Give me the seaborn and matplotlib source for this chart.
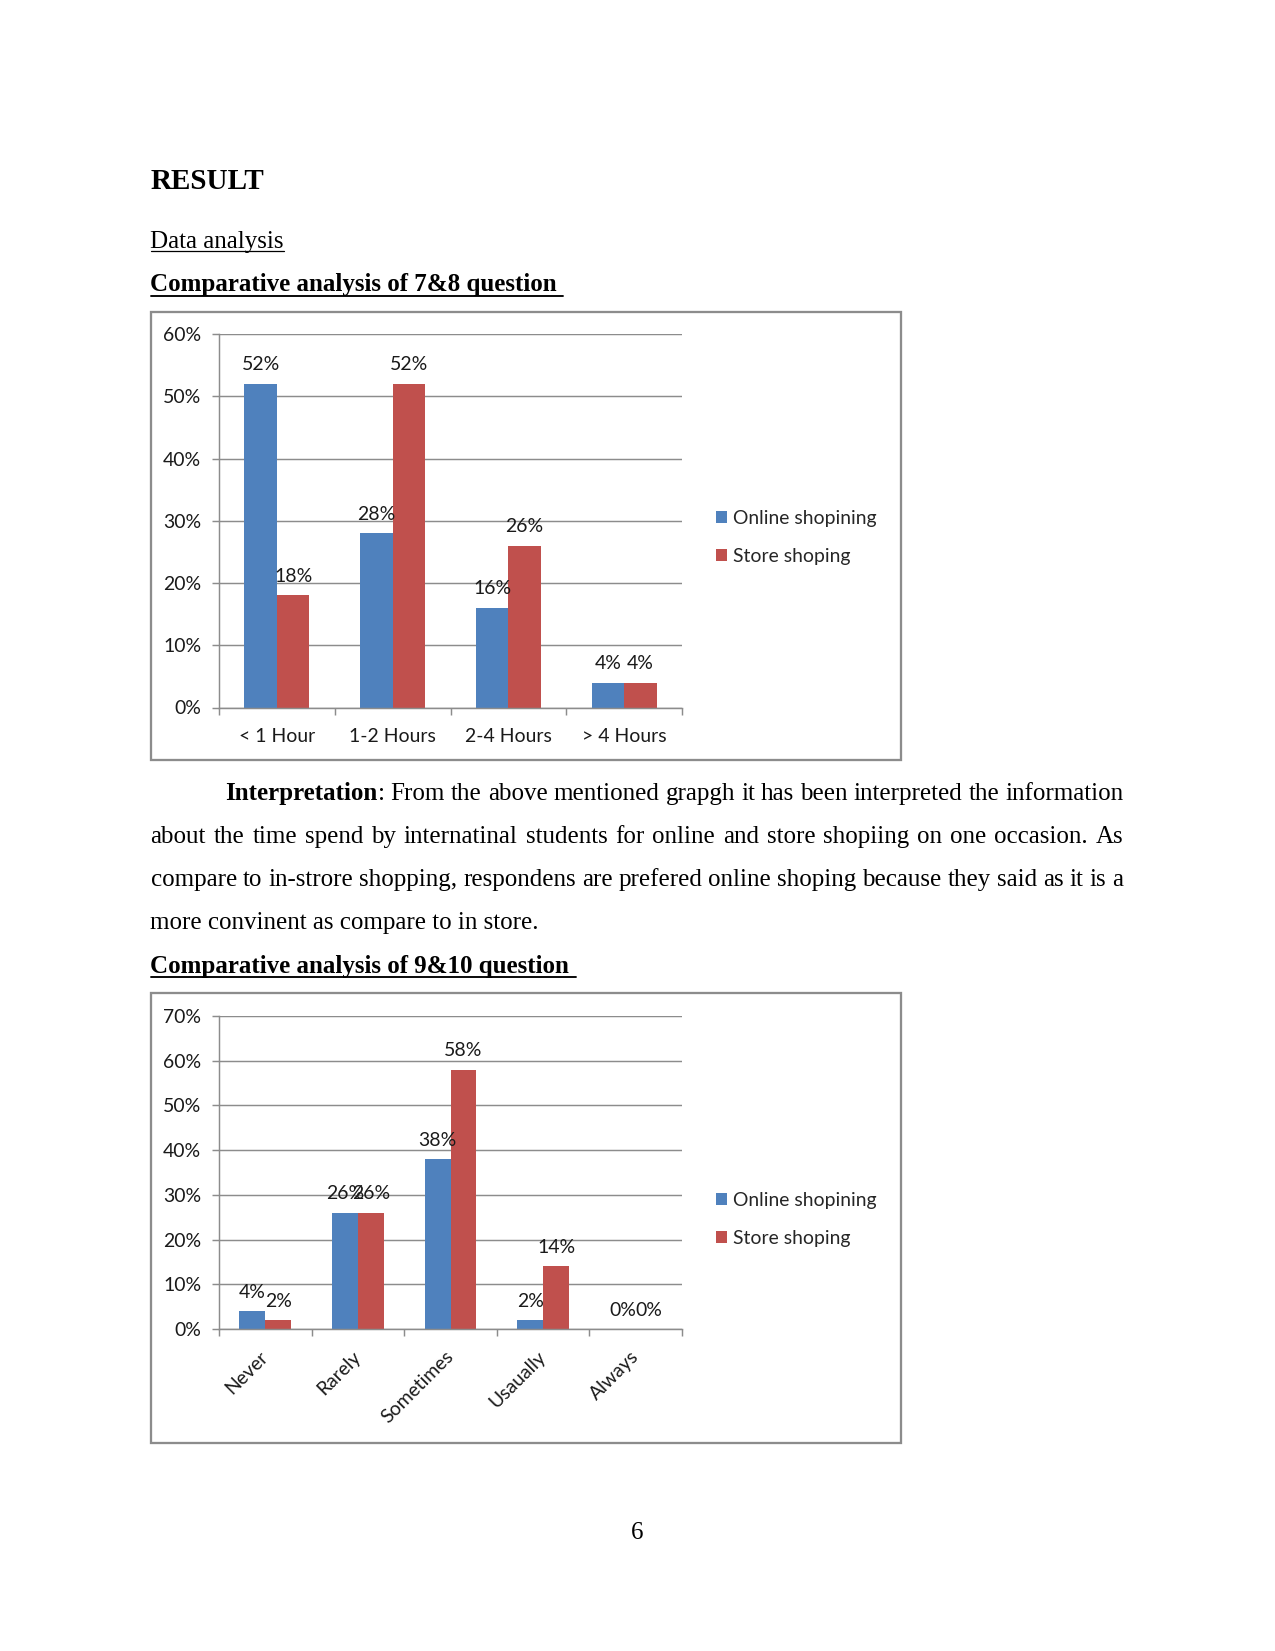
import matplotlib
matplotlib.use('Agg')
import numpy as np
import pandas as pd
import matplotlib.pyplot as plt
import seaborn as sns
from matplotlib.ticker import PercentFormatter
from matplotlib.patches import Rectangle
from matplotlib.lines import Line2D

# data
series_names = ['Online shopining', 'Store shoping']
bar_colors = ['#4F81BD', '#C0504D']

time_cats = ['< 1 Hour', '1-2 Hours', '2-4 Hours', '> 4 Hours']
time_online = [0.52, 0.28, 0.16, 0.04]
time_store = [0.18, 0.52, 0.26, 0.04]

freq_cats = ['Never', 'Rarely', 'Sometimes', 'Usaually', 'Always']
freq_online = [0.04, 0.26, 0.38, 0.02, 0.00]
freq_store = [0.02, 0.26, 0.58, 0.14, 0.00]

para_lines = [
    'From the above mentioned grapgh it has been interpreted the information',
    'about the time spend by internatinal students for online and store shopiing on one occasion. As',
    'compare to in-strore shopping, respondens are prefered online shoping because they said as it is a',
    'more convinent as compare to in store.',
]

# page setup
W, H = 1275, 1651
DPI = 150
sns.set_theme(style='white')
plt.rcParams['font.family'] = ['Lato', 'DejaVu Sans']
fig = plt.figure(figsize=(W / DPI, H / DPI), dpi=DPI)
renderer = fig.canvas.get_renderer()
SERIF = 'Liberation Serif'
GRAY = '#8c8c8c'


def fx(px):
    return px / W


def fy(py):
    return 1 - py / H


def doc_text(x, y, s, size=12, weight='normal', **kw):
    return fig.text(fx(x), fy(y), s, fontsize=size, fontweight=weight,
                    family=SERIF, va='baseline', color='black', **kw)


def underline(t, y, lw):
    bb = t.get_window_extent(renderer)
    fig.add_artist(Line2D([bb.x0 / W, bb.x1 / W], [fy(y), fy(y)],
                          transform=fig.transFigure, color='black', lw=lw))


def justify(tokens, x0, x1, y):
    # tokens: list of words, each word a list of (text, weight) pieces
    objs = []
    widths = []
    for tok in tokens:
        pieces = []
        w = 0
        for s, wt in tok:
            t = doc_text(0, y, s, weight=wt)
            pw = t.get_window_extent(renderer).width
            pieces.append((t, pw))
            w += pw
        objs.append(pieces)
        widths.append(w)
    gap = (x1 - x0 - sum(widths)) / (len(tokens) - 1)
    x = x0
    for pieces, w in zip(objs, widths):
        xx = x
        for t, pw in pieces:
            t.set_x(fx(xx))
            xx += pw
        x += w + gap


def draw_chart(box, area, cats, online, store, ymax, legend_y, rotate):
    fig.add_artist(Rectangle((fx(box[0]), fy(box[3])), (box[2] - box[0]) / W,
                             (box[3] - box[1]) / H, transform=fig.transFigure,
                             fill=False, ec=GRAY, lw=1.1))
    ax = fig.add_axes([fx(area[0]), fy(area[3]), (area[2] - area[0]) / W,
                       (area[3] - area[1]) / H])
    df = pd.DataFrame({
        'category': cats * 2,
        'value': online + store,
        'series': [series_names[0]] * len(cats) + [series_names[1]] * len(cats),
    })
    sns.barplot(data=df, x='category', y='value', hue='series', palette=bar_colors,
                saturation=1, width=0.56, errorbar=None, linewidth=0, ax=ax)
    for cont in ax.containers:
        ax.bar_label(cont, labels=[f'{v:.0%}' for v in cont.datavalues],
                     padding=5, fontsize=9.3, color='#1a1a1a')
    ax.set_ylim(0, ymax)
    ax.set_yticks(np.arange(0, ymax + 0.001, 0.1))
    ax.yaxis.set_major_formatter(PercentFormatter(1.0, decimals=0))
    ax.yaxis.grid(True, color=GRAY, lw=0.7)
    ax.set_axisbelow(True)
    ax.set_xlabel('')
    ax.set_ylabel('')
    for side in ['top', 'right']:
        ax.spines[side].set_visible(False)
    for side in ['left', 'bottom']:
        ax.spines[side].set_color(GRAY)
        ax.spines[side].set_linewidth(0.7)
    ax.set_xticks(np.arange(-0.5, len(cats), 1), minor=True)
    ax.tick_params(axis='y', left=True, length=3.5, width=0.7, color=GRAY, pad=5,
                   labelsize=9.3, labelcolor='#1a1a1a')
    ax.tick_params(axis='x', which='major', bottom=False, length=0,
                   labelsize=9.3, labelcolor='#1a1a1a', pad=12 if rotate else 10)
    ax.tick_params(axis='x', which='minor', bottom=True, length=3.5, width=0.7,
                   color=GRAY)
    if rotate:
        for lab in ax.get_xticklabels():
            lab.set_rotation(45)
            lab.set_ha('right')
            lab.set_va('center')
            lab.set_rotation_mode('anchor')
    sns.move_legend(ax, 'center left', bbox_to_anchor=(1.073, legend_y), title=None,
                    frameon=False, fontsize=9.3, handlelength=0.6, handleheight=0.6,
                    handletextpad=0.3, labelspacing=1.07, borderpad=0, borderaxespad=0)
    return ax


# headings
doc_text(150.5, 189.3, 'RESULT', size=14, weight='bold')
t = doc_text(150.5, 248, 'Data analysis')
underline(t, 250.8, 0.6)
t = doc_text(150.5, 291.4, 'Comparative analysis of 7&8 question ', weight='bold')
underline(t, 295.6, 0.9)

# first chart
draw_chart((150.5, 311.6, 901, 760), (219, 334, 682, 707.5),
           time_cats, time_online, time_store, 0.6, 0.456, False)

# interpretation paragraph
first = [[('Interpretation', 'bold'), (':', 'normal')]]
first += [[(w, 'normal')] for w in para_lines[0].split()]
justify(first, 225.3, 1123.4, 800)
justify([[(w, 'normal')] for w in para_lines[1].split()], 150.5, 1123.4, 843)
justify([[(w, 'normal')] for w in para_lines[2].split()], 150.5, 1123.4, 886)
doc_text(150.5, 929, para_lines[3])

t = doc_text(150.5, 973, 'Comparative analysis of 9&10 question ', weight='bold')
underline(t, 977.2, 0.9)

# second chart
draw_chart((150.5, 993, 901, 1443), (219, 1016, 682, 1329),
           freq_cats, freq_online, freq_store, 0.7, 0.351, True)

# page number
doc_text(637, 1539, '6', ha='center')

fig.savefig('out.png', dpi=DPI)
